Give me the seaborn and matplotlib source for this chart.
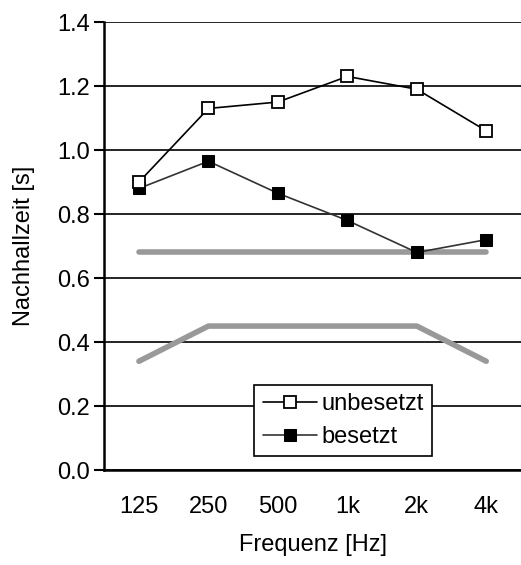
import numpy as np
import pandas as pd
import seaborn as sns
import matplotlib.pyplot as plt

freqs = ["125", "250", "500", "1k", "2k", "4k"]
unbesetzt = [0.90, 1.13, 1.15, 1.23, 1.19, 1.06]
besetzt = [0.88, 0.965, 0.865, 0.78, 0.68, 0.72]
limit_upper = [0.68, 0.68, 0.68, 0.68, 0.68, 0.68]
limit_lower = [0.34, 0.45, 0.45, 0.45, 0.45, 0.34]

sns.set_theme(style="white", rc={"text.color": "black", "axes.labelcolor": "black",
                                 "xtick.color": "black", "ytick.color": "black"})
plt.rcParams['font.family'] = ['Liberation Sans', 'DejaVu Sans']

fig = plt.figure(figsize=(5.21, 5.65), dpi=100)
ax = fig.add_axes([0.2, 0.168, 0.8, 0.793])

df = pd.DataFrame({"freq": freqs, "unbesetzt": unbesetzt, "besetzt": besetzt,
                   "upper": limit_upper, "lower": limit_lower})

# tolerance band lines (grey)
for col in ["upper", "lower"]:
    sns.lineplot(data=df, x="freq", y=col, ax=ax, color="#999999", lw=4,
                 solid_capstyle="round", legend=False, zorder=2)

sns.lineplot(data=df, x="freq", y="unbesetzt", ax=ax, color="black", lw=1.2,
             marker="s", markersize=8, markerfacecolor="white",
             markeredgecolor="black", markeredgewidth=1.3, label="unbesetzt", zorder=4)
sns.lineplot(data=df, x="freq", y="besetzt", ax=ax, color="#333333", lw=1.2,
             marker="s", markersize=8, markerfacecolor="black",
             markeredgecolor="black", label="besetzt", zorder=3)

fs = 17
ax.set_xlim(-0.5, 5.5)
ax.set_ylim(0, 1.4)
ax.set_yticks(np.arange(0, 1.41, 0.2))
ax.set_yticklabels([f"{v:.1f}" for v in np.arange(0, 1.41, 0.2)])
ax.yaxis.grid(True, color="black", lw=1.2)
ax.set_axisbelow(True)

# category ticks sit between the labels
ax.set_xticks(range(len(freqs)))
ax.set_xticklabels(freqs)
ax.tick_params(axis="x", which="major", length=0, pad=19, labelsize=fs)
ax.set_xticks(np.arange(-0.5, 5.5, 1.0), minor=True)
ax.tick_params(axis="x", which="minor", length=7, width=1.5, color="black", direction="out")
ax.tick_params(axis="y", length=7, width=1.5, color="black", direction="out", left=True,
               labelsize=fs, pad=3)

for s in ["top", "right"]:
    ax.spines[s].set_visible(False)
for s in ["left", "bottom"]:
    ax.spines[s].set_color("black")
    ax.spines[s].set_linewidth(1.8)

ax.set_xlabel("Frequenz [Hz]", fontsize=fs, labelpad=11)
ax.set_ylabel("Nachhallzeit [s]", fontsize=fs, labelpad=16)

leg = ax.legend(loc="lower left", bbox_to_anchor=(0.36, 0.031), borderaxespad=0,
                fancybox=False, edgecolor="black", framealpha=1, fontsize=fs,
                handlelength=2.3, handletextpad=0.2, borderpad=0.35, labelspacing=0.45)
leg.get_frame().set_linewidth(1.2)

fig.savefig("out.png", dpi=100)
